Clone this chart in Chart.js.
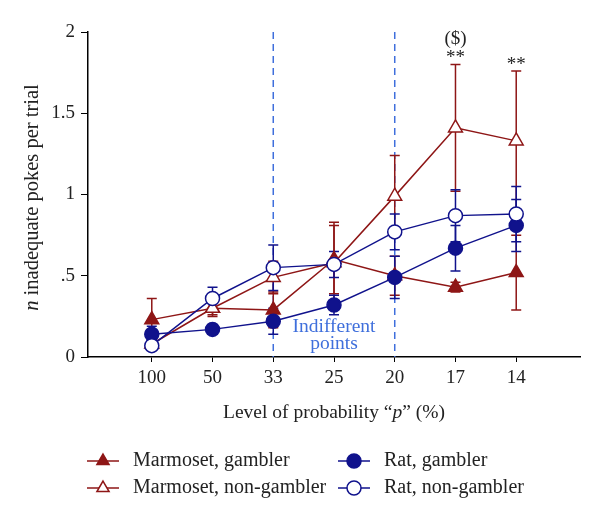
<!DOCTYPE html>
<html>
<head>
<meta charset="utf-8">
<script src="https://cdn.jsdelivr.net/npm/chart.js@4"></script>
<style>
  html, body { margin: 0; padding: 0; background: #fff; }
  canvas { display: block; }
</style>
</head>
<body>
<canvas id="chart" width="600" height="505"></canvas>
<script>
// probability levels on the x axis
const categories = ['100', '50', '33', '25', '20', '17', '14'];
const yTickLabels = ['0', '.5', '1', '1.5', '2'];

// means and SEMs
const marmGambler = [0.23, 0.30, 0.29, 0.60, 0.50, 0.43, 0.52];
const marmGamblerErr = [0.13, 0.04, 0.11, 0.21, 0.12, 0.03, 0.23];
const marmNonGambler = [0.08, 0.30, 0.49, 0.58, 0.99, 1.41, 1.33];
const marmNonGamblerErr = [0.03, 0.05, 0.10, 0.25, 0.25, 0.39, 0.43];
const ratGambler = [0.14, 0.17, 0.22, 0.32, 0.49, 0.67, 0.81];
const ratGamblerErr = [0.05, 0.03, 0.08, 0.06, 0.13, 0.14, 0.16];
const ratNonGambler = [0.07, 0.36, 0.55, 0.57, 0.77, 0.87, 0.88];
const ratNonGamblerErr = [0.03, 0.07, 0.14, 0.08, 0.11, 0.16, 0.17];

// dashed "indifferent points" lines (category index)
const indifferentAt = [2, 4];
// significance marks above the non-gambler marmoset bars
const sigMarks = [
    { idx: 5, lines: ['($)', '**'] },
    { idx: 6, lines: ['**'] },
];

const RED = '#8e1616';
const NAVY = '#10128c';
const BLUE = '#3f6fdc';
const FONT = "'Liberation Serif', 'DejaVu Serif', serif";

const toPoints = arr => arr.map((v, i) => ({ x: i, y: v }));

function series(label, values, errors, color, style, filled, order) {
    return {
        label: label,
        data: toPoints(values),
        errors: errors,
        borderColor: color,
        backgroundColor: filled ? color : '#ffffff',
        pointBackgroundColor: filled ? color : '#ffffff',
        pointBorderColor: color,
        pointStyle: style,
        pointRadius: style === 'triangle' ? 8 : 7,
        pointBorderWidth: 1.5,
        borderWidth: 1.5,
        tension: 0,
        order: order,
    };
}

const datasets = [
    series('Marmoset, gambler', marmGambler, marmGamblerErr, RED, 'triangle', true, 3),
    series('Marmoset, non-gambler', marmNonGambler, marmNonGamblerErr, RED, 'triangle', false, 2),
    series('Rat, gambler', ratGambler, ratGamblerErr, NAVY, 'circle', true, 1),
    series('Rat, non-gambler', ratNonGambler, ratNonGamblerErr, NAVY, 'circle', false, 0),
];

// draw a line of text made of pieces in different fonts, centred on cx
function drawRich(ctx, parts, cx, cy) {
    let total = 0;
    parts.forEach(p => { ctx.font = p.font; total += ctx.measureText(p.text).width; });
    let x = cx - total / 2;
    ctx.textAlign = 'left';
    ctx.textBaseline = 'middle';
    parts.forEach(p => {
        ctx.font = p.font;
        ctx.fillText(p.text, x, cy);
        x += ctx.measureText(p.text).width;
    });
}

const errorBars = {
    id: 'errorBars',
    beforeDatasetsDraw(chart) {
        const { ctx, chartArea, scales: { x, y } } = chart;
        ctx.save();

        // Indifferent points guides
        ctx.strokeStyle = BLUE;
        ctx.lineWidth = 1.5;
        ctx.setLineDash([7, 5]);
        indifferentAt.forEach(i => {
            const px = x.getPixelForValue(i);
            ctx.beginPath();
            ctx.moveTo(px, chartArea.top);
            ctx.lineTo(px, chartArea.bottom);
            ctx.stroke();
        });
        ctx.setLineDash([]);

        // error bars
        chart.data.datasets.forEach(ds => {
            ctx.strokeStyle = ds.borderColor;
            ctx.lineWidth = 1.5;
            ds.data.forEach((pt, i) => {
                const e = ds.errors[i];
                const px = x.getPixelForValue(pt.x);
                const top = y.getPixelForValue(pt.y + e);
                const bot = y.getPixelForValue(Math.max(0, pt.y - e));
                ctx.beginPath();
                ctx.moveTo(px, top); ctx.lineTo(px, bot);
                ctx.moveTo(px - 5, top); ctx.lineTo(px + 5, top);
                ctx.moveTo(px - 5, bot); ctx.lineTo(px + 5, bot);
                ctx.stroke();
            });
        });
        ctx.restore();
    },
    afterDraw(chart) {
        const { ctx, chartArea, scales: { x, y } } = chart;
        ctx.save();
        ctx.fillStyle = '#222';

        // y title (italic n)
        ctx.save();
        ctx.translate(33, (chartArea.top + chartArea.bottom) / 2 + 3);
        ctx.rotate(-Math.PI / 2);
        drawRich(ctx, [
            { text: 'n', font: `italic 20.5px ${FONT}` },
            { text: ' inadequate pokes per trial', font: `20.5px ${FONT}` },
        ], 0, 0);
        ctx.restore();

        // x title (italic p)
        drawRich(ctx, [
            { text: 'Level of probability \u201C', font: `19.5px ${FONT}` },
            { text: 'p', font: `italic 19.5px ${FONT}` },
            { text: '\u201D (%)', font: `19.5px ${FONT}` },
        ], (chartArea.left + chartArea.right) / 2, 413);

        // significance marks
        ctx.textAlign = 'center';
        ctx.textBaseline = 'middle';
        sigMarks.forEach(m => {
            const px = x.getPixelForValue(m.idx);
            const ds = datasets[1];
            let py = y.getPixelForValue(ds.data[m.idx].y + ds.errors[m.idx]) - 8;
            for (let k = m.lines.length - 1; k >= 0; k--) {
                ctx.font = `19px ${FONT}`;
                ctx.fillText(m.lines[k], px, py + (m.lines[k] === '**' ? 2 : -1));
                py -= 16;
            }
        });

        // indifferent points label
        ctx.fillStyle = BLUE;
        ctx.font = `19.5px ${FONT}`;
        const midX = (x.getPixelForValue(indifferentAt[0]) + x.getPixelForValue(indifferentAt[1])) / 2;
        ctx.fillText('Indifferent', midX, 327);
        ctx.fillText('points', midX, 344);

        // legend
        const cols = [87, 338];
        const rows = [461, 488];
        datasets.forEach((ds, i) => {
            const lx = cols[i < 2 ? 0 : 1];
            const ly = rows[i % 2];
            ctx.strokeStyle = ds.borderColor;
            ctx.lineWidth = 1.5;
            ctx.beginPath();
            ctx.moveTo(lx, ly); ctx.lineTo(lx + 32, ly);
            ctx.stroke();
            ctx.fillStyle = ds.pointBackgroundColor;
            Chart.helpers.drawPoint(ctx, {
                pointStyle: ds.pointStyle, radius: 7, borderWidth: 1.5, rotation: 0,
            }, lx + 16, ly);
            ctx.fillStyle = '#222';
            ctx.font = `20px ${FONT}`;
            ctx.textAlign = 'left';
            ctx.textBaseline = 'middle';
            ctx.fillText(ds.label, lx + 46, ly);
        });
        ctx.restore();
    }
};

new Chart(document.getElementById('chart'), {
    type: 'line',
    data: { datasets: datasets },
    options: {
        responsive: false,
        animation: false,
        layout: { padding: { top: 32, right: 20, bottom: 118, left: 0 } },
        plugins: {
            legend: { display: false },
            tooltip: { enabled: false },
        },
        scales: {
            x: {
                type: 'linear',
                min: -1.05,
                max: 7.05,
                afterBuildTicks: scale => { scale.ticks = categories.map((c, i) => ({ value: i })); },
                afterFit: scale => { scale.height = 30; },
                ticks: {
                    callback: v => categories[v],
                    color: '#222',
                    font: { family: FONT, size: 19 },
                    padding: 5,
                    maxRotation: 0,
                },
                grid: { drawOnChartArea: false, tickLength: 5, color: '#000', tickColor: '#000' },
                border: { color: '#000', width: 1.5 },
            },
            y: {
                min: 0,
                max: 2,
                afterFit: scale => { scale.width = 88; },
                ticks: {
                    stepSize: 0.5,
                    callback: (v, i) => yTickLabels[i],
                    color: '#222',
                    font: { family: FONT, size: 19 },
                    padding: 6,
                },
                grid: { drawOnChartArea: false, tickLength: 7, color: '#000', tickColor: '#000' },
                border: { color: '#000', width: 1.5 },
            },
        },
    },
    plugins: [errorBars],
});
</script>
</body>
</html>
